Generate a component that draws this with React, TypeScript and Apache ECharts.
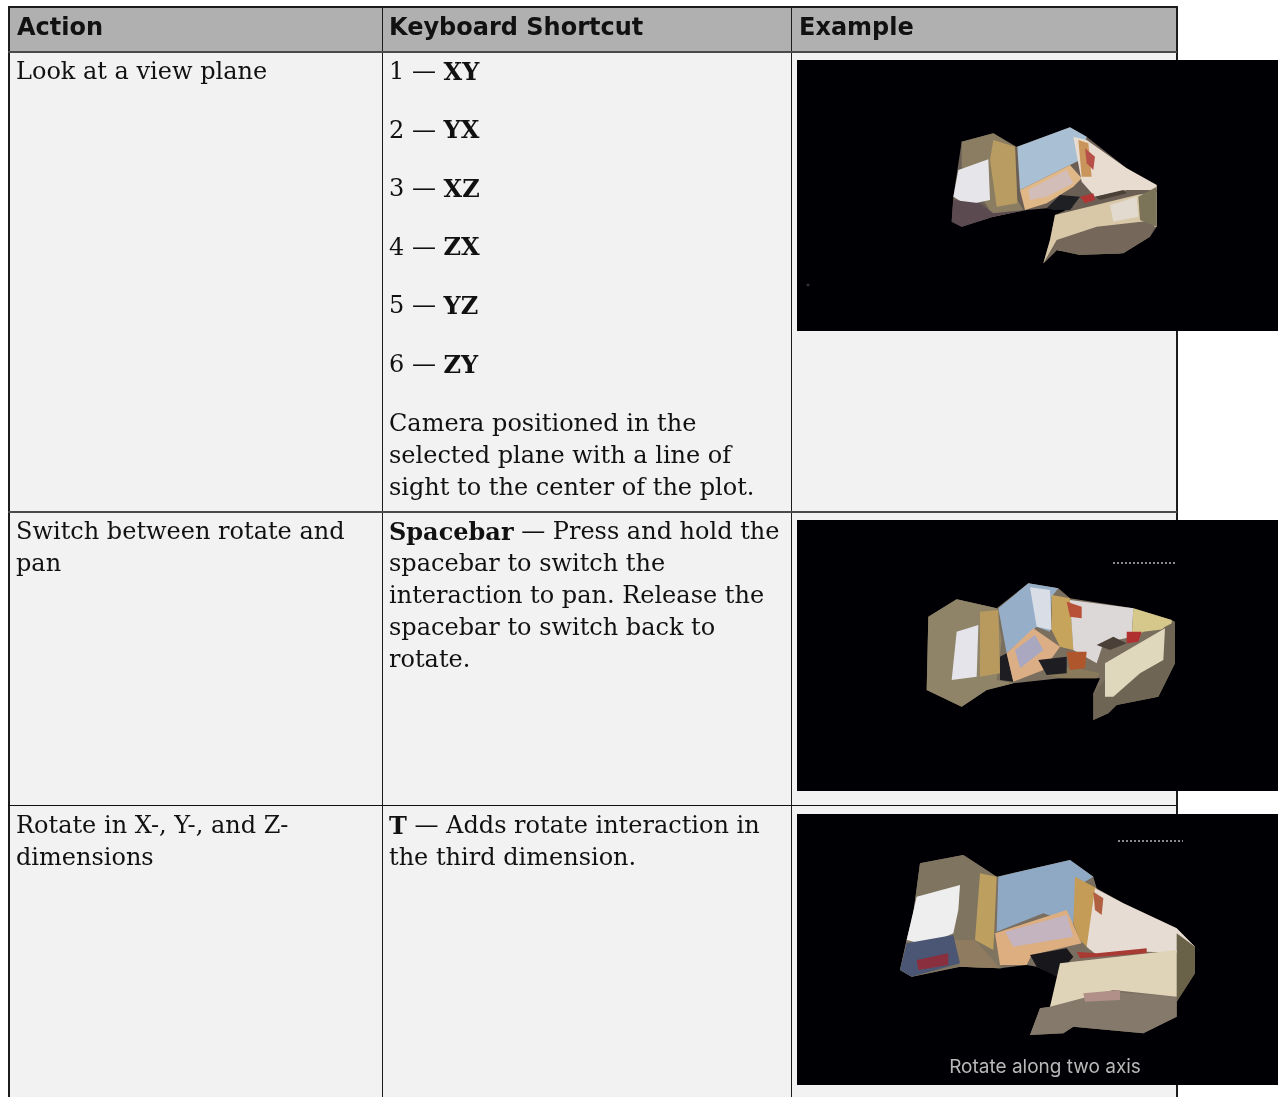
import React, { useEffect, useRef } from "react";
import * as echarts from "echarts";

const headers = ["Action", "Keyboard Shortcut", "Example"];
const actions = [
  ["Look at a view plane"],
  ["Switch between rotate and", "pan"],
  ["Rotate in X-, Y-, and Z-", "dimensions"],
];
const planeKeys = ["1 — {b|XY}", "2 — {b|YX}", "3 — {b|XZ}", "4 — {b|ZX}", "5 — {b|YZ}", "6 — {b|ZY}"];
const planeNote = ["Camera positioned in the", "selected plane with a line of", "sight to the center of the plot."];
const spaceNote = [
  "{b|Spacebar} — Press and hold the",
  "spacebar to switch the",
  "interaction to pan. Release the",
  "spacebar to switch back to",
  "rotate.",
];
const rotateNote = ["{b|T} — Adds rotate interaction in", "the third dimension."];
const imageCaption = "Rotate along two axis";

type Poly = [string, number[]];
const sceneOne: Poly[] = [
  ["#6b5f55", [520,590,545,425,640,400,710,440,870,382,920,410,1040,505,1130,555,1130,680,1110,710,1030,760,900,765,830,750,790,790,810,720,825,645,880,620,800,625,740,630,640,650,545,680,515,665]],
  ["#8a7d62", [545,425,640,400,705,440,712,600,730,630,640,650,610,600,545,500]],
  ["#b89c62", [640,420,705,440,712,610,650,620,630,480]],
  ["#e6e6ea", [535,510,625,478,630,600,560,615,520,590]],
  ["#5b4a50", [520,600,600,610,640,640,740,630,640,650,545,680,515,665]],
  ["#a9bfd3", [712,440,870,382,920,410,900,480,870,495,720,570]],
  ["#e0b887", [720,570,870,495,905,535,880,560,800,610,735,630]],
  ["#d3bdb9", [745,570,860,510,880,550,800,590,750,600]],
  ["#e8dcd0", [880,410,920,420,1040,505,1130,555,1130,570,1040,570,945,590,905,545]],
  ["#c9955a", [895,420,925,430,935,530,905,530]],
  ["#b8504a", [915,445,945,470,940,510,920,490]],
  ["#1e2024", [800,625,840,585,900,590,870,630,820,630]],
  ["#b03535", [900,590,940,580,945,600,915,610]],
  ["#4a4038", [945,590,1030,570,1040,580,960,600]],
  ["#d8c8a8", [825,645,1070,585,1130,575,1130,680,1040,680,1020,760,900,760,830,750,790,790,810,720]],
  ["#e2dace", [990,615,1070,590,1075,650,1000,665]],
  ["#75685a", [830,720,950,680,1130,660,1110,710,1030,760,900,765,830,750,790,790]],
  ["#7c7458", [1075,590,1130,560,1130,680,1080,660]],
];
const sceneTwo: Poly[] = [
  ["#7a6e5e", [440,570,445,350,530,298,650,325,745,250,835,265,870,295,1060,325,1175,360,1185,365,1185,490,1135,590,1010,615,985,640,940,660,940,580,960,535,840,535,700,550,620,570,545,620]],
  ["#8f8468", [445,350,530,298,650,325,665,420,660,470,650,540,700,550,620,570,545,620,440,570]],
  ["#b89a5e", [600,335,655,330,660,520,600,530]],
  ["#e4e4ea", [530,395,595,375,590,530,515,540]],
  ["#97aec9", [655,325,745,250,835,265,815,290,810,395,770,380,680,460]],
  ["#d8dde6", [750,262,810,270,815,390,770,380]],
  ["#1d1d22", [660,470,680,460,700,545,660,540]],
  ["#dcae85", [680,460,760,385,840,440,790,510,700,545]],
  ["#a9a8c0", [705,450,765,405,790,450,720,505]],
  ["#c7a45c", [815,285,870,295,880,450,840,440,815,390]],
  ["#dcd8d8", [870,300,1060,325,1055,410,970,430,950,490,880,450]],
  ["#b85038", [860,305,905,320,905,355,870,350]],
  ["#d6c88a", [1060,325,1175,360,1175,385,1090,395,1055,420]],
  ["#b03030", [1040,395,1085,395,1075,425,1040,430]],
  ["#4a4038", [950,435,1000,410,1040,430,990,450]],
  ["#8a7a5c", [800,525,870,500,960,520,950,535,840,535]],
  ["#1d1d22", [775,480,860,470,860,520,800,525]],
  ["#b0562c", [860,455,920,455,915,505,870,510]],
  ["#6e6555", [1155,380,1185,365,1185,490,1135,590,1010,615,985,640,940,660,940,580,975,540]],
  ["#e0d8bc", [975,490,1155,385,1150,480,1080,520,1000,590,975,590]],
];
const sceneThree: Poly[] = [
  ["#7a6e60", [360,510,380,420,400,340,420,190,550,165,650,230,870,180,940,230,950,265,1030,310,1190,385,1245,440,1245,520,1190,605,1190,650,1090,700,880,680,850,700,750,705,780,625,810,620,840,530,770,500,740,495,660,505,540,500,395,530]],
  ["#7f7460", [420,190,550,165,650,230,645,400,665,505,540,500,395,530,360,510,380,420,400,340]],
  ["#bda060", [600,220,650,230,640,450,585,420]],
  ["#8f7b5f", [520,420,585,420,660,505,540,500]],
  ["#eeeeee", [410,290,540,255,535,330,520,400,440,435,380,420]],
  ["#4a5674", [380,430,520,405,540,490,395,530,360,510]],
  ["#8a2f3d", [410,480,505,460,505,495,415,510]],
  ["#8fa9c5", [655,230,870,180,940,230,890,260,880,370,790,340,650,395]],
  ["#dcae80", [645,400,860,330,905,430,755,465,740,495,660,495]],
  ["#c4b4c0", [675,395,860,345,880,410,700,440]],
  ["#18181c", [750,465,860,445,880,470,830,530,770,500]],
  ["#c49c58", [885,230,950,265,930,450,900,420,880,370]],
  ["#e6dcd4", [945,265,1030,310,1190,385,1245,440,1245,460,1100,455,950,465,920,440]],
  ["#b06040", [940,275,970,295,965,345,945,330]],
  ["#a83a34", [890,455,950,460,1100,445,1100,460,900,475]],
  ["#6a6248", [1190,400,1245,440,1245,520,1190,605]],
  ["#85796b", [810,620,920,570,1190,590,1190,650,1090,700,880,680,850,700,750,705,780,625]],
  ["#e0d4b8", [840,490,1190,450,1190,590,1000,570,810,620]],
  ["#b09088", [910,580,1020,570,1020,600,915,605]],
];

const SERIF = "'DejaVu Serif'";
const SANS = "'DejaVu Sans'";
const BODY_SIZE = 24;
const INK = "#111111";

function bodyText(content: string, x: number, y: number) {
  return {
    type: "text",
    x,
    y,
    style: {
      text: content,
      fontFamily: SERIF,
      fontSize: BODY_SIZE,
      fill: INK,
      textVerticalAlign: "middle",
      rich: {
        b: { fontFamily: SERIF, fontSize: BODY_SIZE, fontWeight: "bold", fill: INK },
      },
    },
  };
}

function rect(x: number, y: number, width: number, height: number, fill: string) {
  return { type: "rect", shape: { x, y, width, height }, style: { fill } };
}

function scene(polys: Poly[], ox: number, oy: number) {
  return polys.map(([fill, pts]) => {
    const points: number[][] = [];
    for (let i = 0; i < pts.length; i += 2) points.push([ox + pts[i] / 3, oy + pts[i + 1] / 3]);
    return { type: "polygon", shape: { points }, style: { fill } };
  });
}

function noise(x1: number, x2: number, y: number) {
  return {
    type: "line",
    shape: { x1, y1: y, x2, y2: y },
    style: { stroke: "#8a8a8a", lineWidth: 2, lineDash: [2, 2] },
  };
}

export default function App() {
  const ref = useRef<HTMLDivElement>(null);
  useEffect(() => {
    document.body.style.margin = "0";
    document.body.style.background = "#ffffff";
    const chart = echarts.init(ref.current!, undefined, { renderer: "svg" });
    const elements: any[] = [];
    // Table backgrounds
    elements.push(rect(9, 7, 1168, 45, "#b0b0b0"));
    elements.push(rect(9, 52, 1168, 1045, "#f2f2f2"));
    // Grid lines
    elements.push(rect(8, 6, 1169, 2, "#1c1c1c"));
    elements.push(rect(8, 6, 2, 1091, "#1c1c1c"));
    elements.push(rect(382, 6, 1, 1091, "#1c1c1c"));
    elements.push(rect(791, 6, 1, 1091, "#1c1c1c"));
    elements.push(rect(1176, 6, 2, 1091, "#1c1c1c"));
    elements.push(rect(8, 51, 1169, 2, "#4a4a4a"));
    elements.push(rect(8, 511, 1169, 2, "#4a4a4a"));
    elements.push(rect(8, 805, 1169, 1, "#101010"));

    // Headers
    [17, 389, 799].forEach((x, i) => {
      elements.push({
        type: "text",
        x,
        y: 27,
        style: {
          text: headers[i],
          fontFamily: SANS,
          fontWeight: "bold",
          fontSize: 24,
          fill: "#111111",
          textVerticalAlign: "middle",
        },
      });
    });

    // Action column
    [71, 531, 825].forEach((top, r) => {
      actions[r].forEach((line, i) => elements.push(bodyText(line, 16, top + i * 32)));
    });
    // Shortcut column
    planeKeys.forEach((line, i) => elements.push(bodyText(line, 389, 71 + i * 58.6)));
    planeNote.forEach((line, i) => elements.push(bodyText(line, 389, 423 + i * 32)));
    spaceNote.forEach((line, i) => elements.push(bodyText(line, 389, 531 + i * 32)));
    rotateNote.forEach((line, i) => elements.push(bodyText(line, 389, 825 + i * 32)));

    // Example images
    elements.push(rect(797, 60, 481, 271, "#000004"));
    elements.push(...scene(sceneOne, 780, 0));
    elements.push({ type: "circle", shape: { cx: 808, cy: 285, r: 1.5 }, style: { fill: "#333333" } });

    elements.push(rect(797, 520, 481, 271, "#000004"));
    elements.push(...scene(sceneTwo, 780, 500));
    elements.push(noise(1113, 1176, 563));

    elements.push(rect(797, 814, 481, 271, "#000004"));
    elements.push(...scene(sceneThree, 780, 800));
    elements.push(noise(1118, 1183, 841));
    elements.push({
      type: "text",
      x: 1045,
      y: 1066,
      style: {
        text: imageCaption,
        fontFamily: "Inter",
        fontSize: 19,
        fill: "#b8b8b8",
        textAlign: "center",
        textVerticalAlign: "middle",
      },
    });

    chart.setOption({ animation: false, graphic: { elements } });
    return () => chart.dispose();
  }, []);
  return <div ref={ref} style={{ position: "fixed", left: 0, top: 0, width: 1285, height: 1097 }} />;
}
